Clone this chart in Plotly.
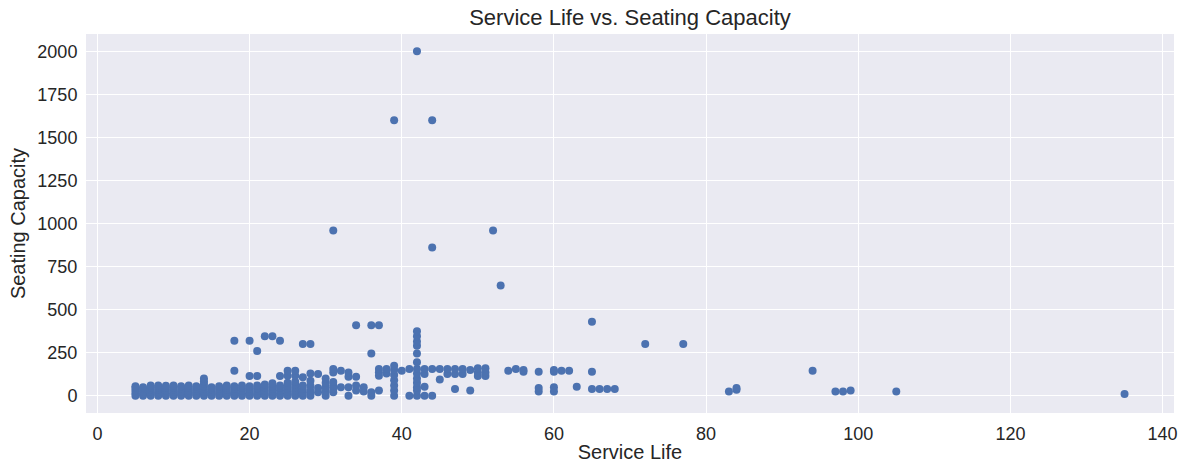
import plotly.graph_objects as go

# Dense cluster of short-lived, small-capacity vehicles (service life 5-30 years)
life_short = [
    5, 5, 5, 5, 5,
    6, 6, 6, 6, 6,
    7, 7, 7, 7, 7, 7,
    8, 8, 8, 8, 8, 8,
    9, 9, 9, 9, 9,
    10, 10, 10, 10, 10, 10,
    11, 11, 11, 11, 11,
    12, 12, 12, 12, 12, 12,
    13, 13, 13, 13, 13,
    14, 14, 14, 14, 14, 14, 14, 14,
    15, 15, 15, 15, 15,
    16, 16, 16, 16, 16,
    17, 17, 17, 17, 17, 17,
    18, 18, 18, 18, 18, 18, 18,
    19, 19, 19, 19, 19,
    20, 20, 20, 20, 20, 20, 20,
    21, 21, 21, 21, 21, 21, 21,
    22, 22, 22, 22, 22, 22,
    23, 23, 23, 23, 23, 23, 23,
    24, 24, 24, 24, 24, 24, 24,
    25, 25, 25, 25, 25, 25, 25, 25,
    26, 26, 26, 26, 26, 26, 26, 26,
    27, 27, 27, 27, 27, 27,
    28, 28, 28, 28, 28, 28, 28,
    29, 29, 29,
    30, 30, 30, 30, 30,
]
seats_short = [
    0, 15, 30, 45, 55,
    0, 10, 25, 40, 50,
    0, 12, 24, 36, 50, 60,
    0, 10, 20, 35, 48, 60,
    0, 15, 30, 45, 58,
    0, 10, 22, 35, 50, 60,
    0, 12, 25, 40, 55,
    0, 10, 20, 32, 45, 60,
    0, 15, 28, 42, 56,
    0, 12, 25, 40, 55, 70, 85, 100,
    0, 10, 22, 36, 50,
    0, 14, 28, 42, 55,
    0, 10, 20, 35, 48, 60,
    0, 12, 25, 40, 55, 145, 320,
    0, 15, 30, 45, 60,
    0, 10, 25, 40, 55, 115, 320,
    0, 12, 28, 44, 60, 115, 260,
    0, 15, 30, 48, 65, 345,
    0, 10, 25, 40, 56, 72, 345,
    0, 14, 30, 46, 60, 115, 320,
    0, 12, 26, 42, 58, 75, 116, 145,
    0, 15, 30, 48, 65, 82, 116, 145,
    0, 20, 40, 60, 107, 300,
    0, 15, 29, 58, 87, 130, 300,
    20, 45, 126,
    0, 25, 50, 75, 100,
]

# Mid-life vehicles (31-68 years), including the large-capacity outliers
life_mid = [
    31, 31, 31, 31, 31, 31, 31,
    32, 32,
    33, 33, 33, 33,
    34, 34, 34, 34,
    35, 35,
    36, 36, 36, 36,
    37, 37, 37, 37, 37,
    38, 38,
    39, 39, 39, 39, 39, 39, 39, 39,
    40,
    41, 41,
    42, 42, 42, 42, 42, 42, 42, 42, 42, 42, 42, 42, 42, 42,
    43, 43, 43, 43,
    44, 44, 44, 44,
    45, 45,
    46, 46,
    47, 47, 47,
    48, 48,
    49, 49,
    50, 50, 50,
    51, 51, 51,
    52, 53, 54, 55,
    56, 56,
    58, 58, 58,
    60, 60, 60, 60,
    61, 62, 63,
    65, 65, 65,
    66, 67, 68,
]
seats_mid = [
    20, 40, 60, 80, 135, 155, 960,
    50, 145,
    0, 50, 110, 135,
    30, 60, 110, 410,
    25, 50,
    0, 20, 245, 410,
    30, 116, 136, 155, 410,
    130, 155,
    0, 30, 60, 90, 120, 150, 175, 1600,
    145,
    0, 155,
    0, 30, 50, 75, 100, 130, 155, 195, 245, 290, 315, 345, 375, 2000,
    0, 52, 126, 155,
    0, 155, 860, 1600,
    95, 155,
    126, 155,
    40, 126, 155,
    126, 155,
    30, 150,
    115, 135, 160,
    115, 135, 160,
    960, 640, 145, 155,
    140, 150,
    25, 45, 140,
    25, 50, 140, 150,
    145, 145, 52,
    40, 140, 430,
    40, 40, 40,
]

# Long-lived vehicles (70+ years)
life_long = [72, 77, 83, 84, 84, 94, 97, 98, 99, 105, 135]
seats_long = [300, 300, 25, 35, 45, 145, 25, 25, 30, 25, 10]

service_life = life_short + life_mid + life_long
seating_capacity = seats_short + seats_mid + seats_long

x_ticks = [0, 20, 40, 60, 80, 100, 120, 140]
y_ticks = [0, 250, 500, 750, 1000, 1250, 1500, 1750, 2000]

FONT = "Liberation Sans, Arial, sans-serif"
TEXT = "#262626"

fig = go.Figure(
    go.Scatter(
        x=service_life,
        y=seating_capacity,
        mode="markers",
        marker=dict(color="#4C72B0", size=8, line=dict(width=0)),
        hoverinfo="x+y",
    )
)

axis_common = dict(
    showgrid=True,
    gridcolor="#FFFFFF",
    gridwidth=1.3,
    zeroline=False,
    showline=False,
    automargin=False,
    ticks="outside",
    ticklen=4,
    tickcolor="rgba(0,0,0,0)",
    tickfont=dict(family=FONT, size=18, color=TEXT),
)

fig.update_layout(
    width=1182,
    height=465,
    margin=dict(l=86, r=8, t=34, b=52),
    paper_bgcolor="#FFFFFF",
    plot_bgcolor="#EAEAF2",
    showlegend=False,
    title=dict(
        text="Service Life vs. Seating Capacity",
        x=(86 + 1174) / 2 / 1182,
        xanchor="center",
        y=1 - 17 / 465,
        yanchor="middle",
        font=dict(family=FONT, size=22, color=TEXT),
    ),
    xaxis=dict(
        axis_common,
        range=[-1.5, 141.5],
        tickvals=x_ticks,
        title=dict(text="Service Life", font=dict(family=FONT, size=20, color=TEXT), standoff=2),
    ),
    yaxis=dict(
        axis_common,
        range=[-100, 2100],
        tickvals=y_ticks,
        title=dict(text="Seating Capacity", font=dict(family=FONT, size=20, color=TEXT), standoff=6),
    ),
)

fig.write_html("out.html")
